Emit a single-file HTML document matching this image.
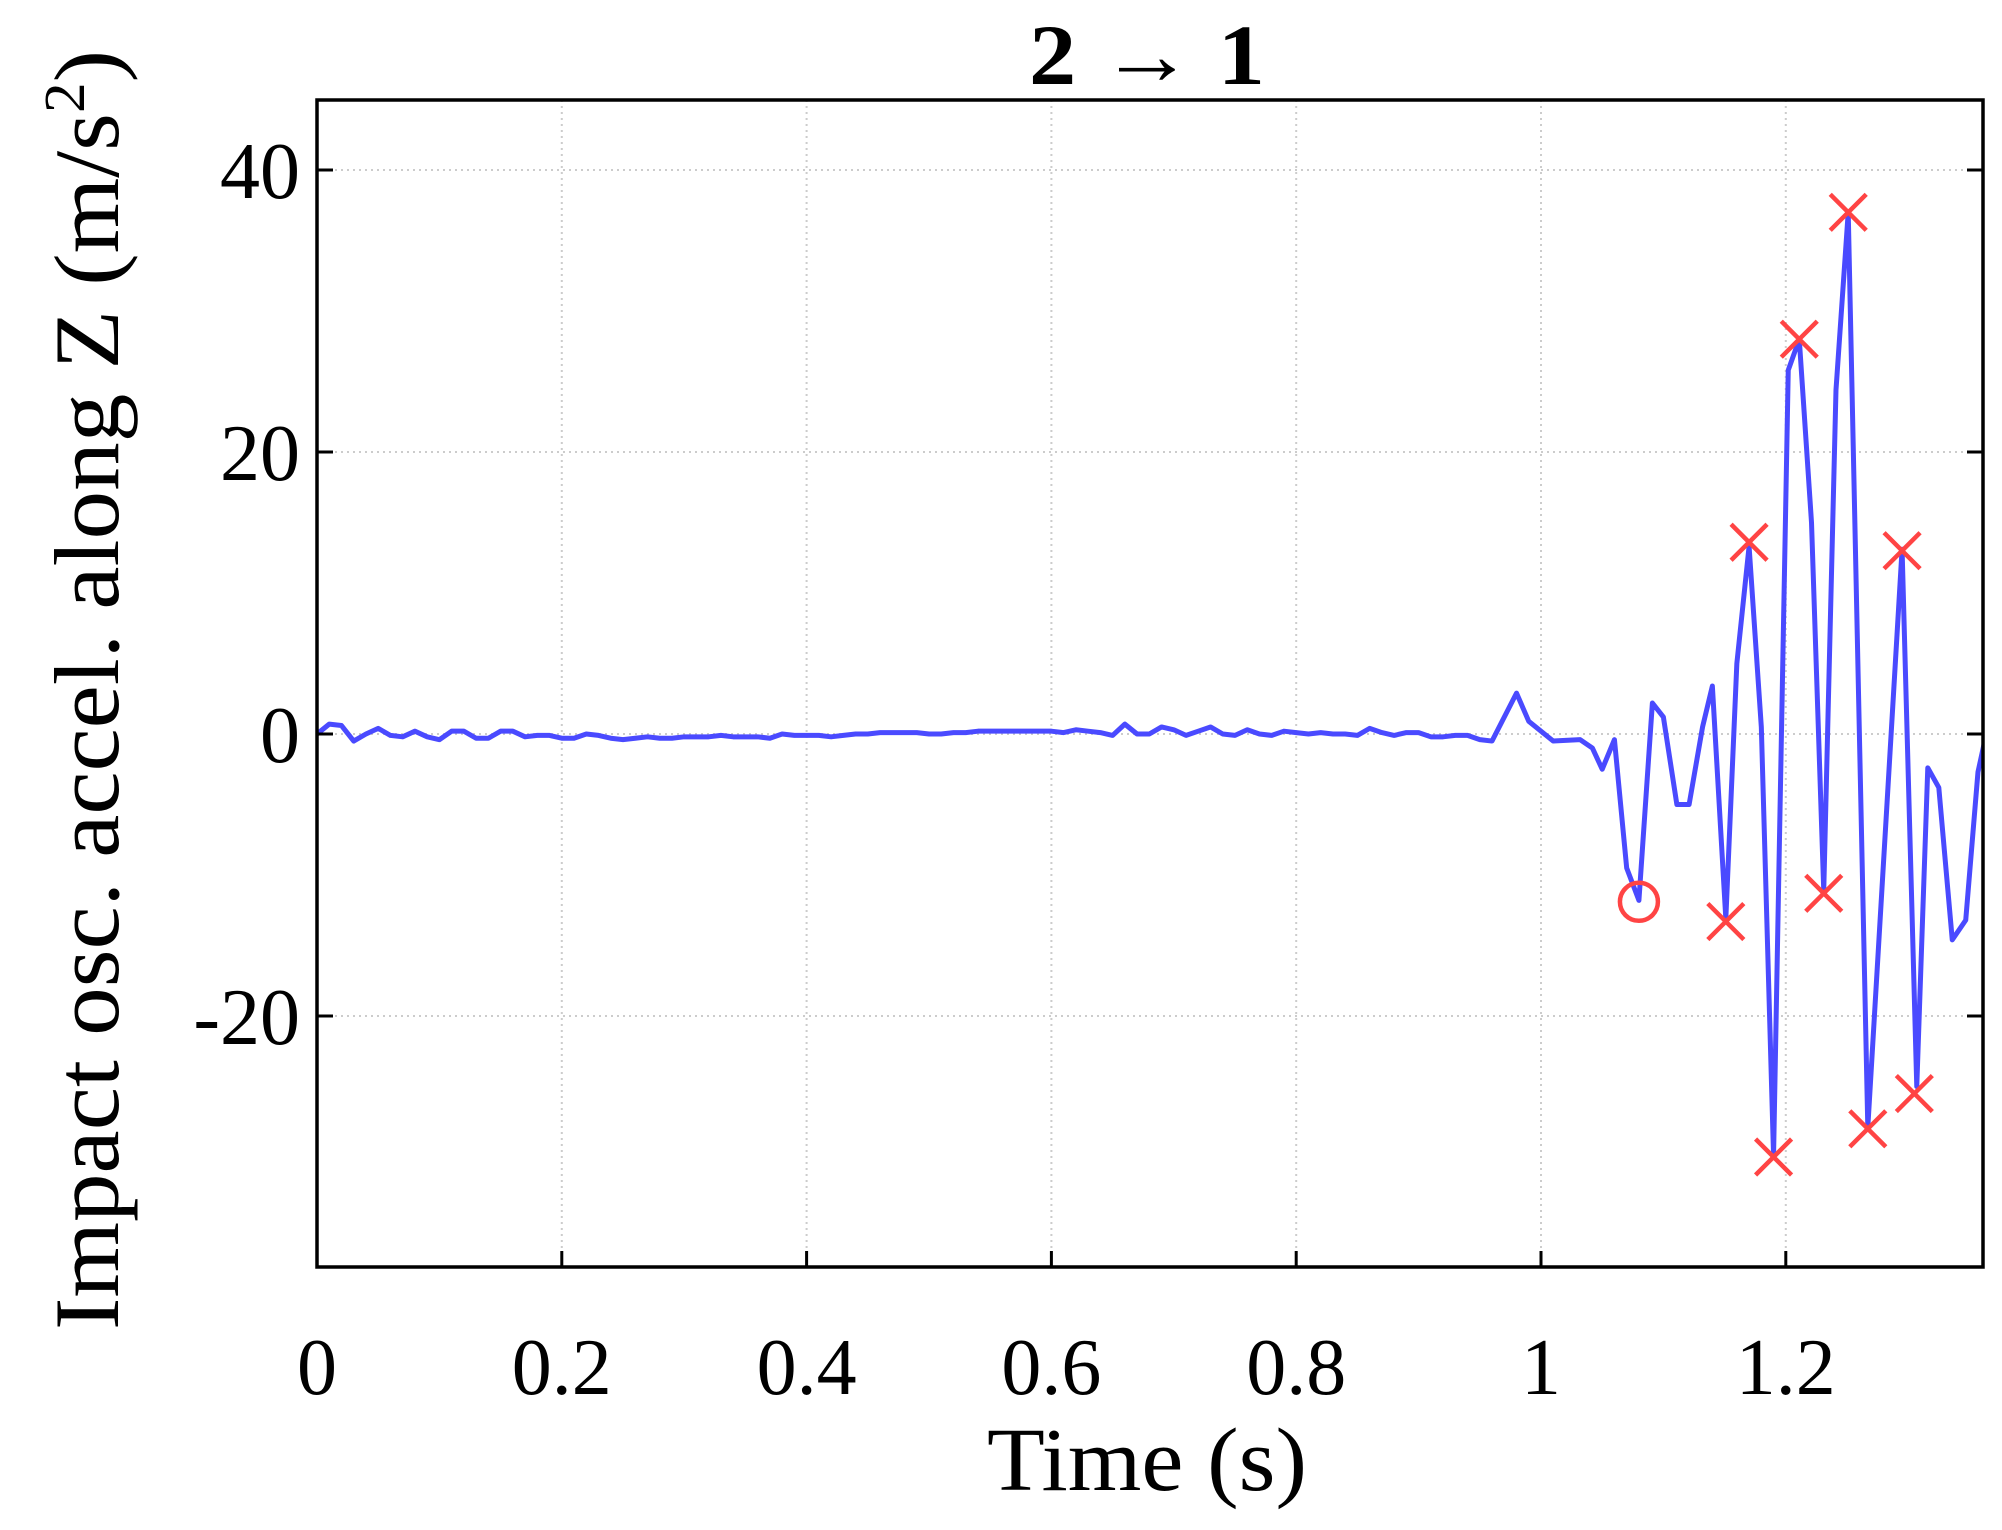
<!DOCTYPE html>
<html><head><meta charset="utf-8"><style>
html,body{margin:0;padding:0;background:#fff;}
svg text{font-family:"Liberation Serif",serif;fill:#000;}
</style></head><body>
<svg id="chart" width="2002" height="1525" viewBox="0 0 2002 1525" xmlns="http://www.w3.org/2000/svg">
<defs><clipPath id="clip"><rect x="317" y="100" width="1666" height="1167"/></clipPath></defs>
<rect x="0" y="0" width="2002" height="1525" fill="#fff"/>
<g id="grid"></g>
<g id="series" clip-path="url(#clip)"></g>
<g id="markers"></g>
<g id="axes"></g>
<text x="1147" y="84" font-size="86" font-weight="bold" text-anchor="middle" textLength="236" lengthAdjust="spacingAndGlyphs">2 → 1</text>
<text x="1147" y="1490" font-size="90" text-anchor="middle" textLength="320" lengthAdjust="spacingAndGlyphs">Time (s)</text>
<text transform="translate(118,690) rotate(-90)" font-size="92" text-anchor="middle" textLength="1280" lengthAdjust="spacingAndGlyphs">Impact osc. accel. along Z (m/s<tspan font-size="58" dy="-34">2</tspan><tspan dy="34">)</tspan></text>
</svg>
<script>
const xTicks=[0,0.2,0.4,0.6,0.8,1,1.2];
const xTickLabels=["0","0.2","0.4","0.6","0.8","1","1.2"];
const yTicks=[40,20,0,-20];
const yTickLabels=["40","20","0","-20"];
const flatVals=[0,0.7,0.6,-0.5,0,0.4,-0.1,-0.2,0.2,-0.2,-0.4,0.2,0.2,-0.3,-0.3,0.2,0.2,-0.2,-0.1,-0.1,-0.3,-0.3,0,-0.1,-0.3,-0.4,-0.3,-0.2,-0.3,-0.3,-0.2,-0.2,-0.2,-0.1,-0.2,-0.2,-0.2,-0.3,0,-0.1,-0.1,-0.1,-0.2,-0.1,0,0,0.1,0.1,0.1,0.1,0,0,0.1,0.1,0.2,0.2,0.2,0.2,0.2,0.2,0.2,0.1,0.3,0.2,0.1,-0.1,0.7,0,0,0.5,0.3,-0.1,0.2,0.5,0,-0.1,0.3,0,-0.1,0.2,0.1,0,0.1,0,0,-0.1,0.4,0.1,-0.1,0.1,0.1,-0.2,-0.2,-0.1,-0.1,-0.4,-0.5];
const lateTimes=[0.98,0.99,1.01,1.032,1.042,1.05,1.06,1.07,1.08,1.091,1.1,1.111,1.121,1.132,1.14,1.151,1.16,1.17,1.18,1.19,1.202,1.211,1.221,1.231,1.241,1.251,1.267,1.295,1.307,1.316,1.325,1.336,1.347,1.357,1.368];
const lateVals=[2.9,0.9,-0.5,-0.4,-1,-2.5,-0.4,-9.5,-11.8,2.2,1.2,-5,-5,0.5,3.4,-13.1,5,13.3,0.5,-29.9,25.8,28,15,-11.1,24.4,37,-27.9,13.1,-25,-2.4,-3.8,-14.6,-13.2,-2.7,1.7];
const circleT=[1.08], circleV=[-11.9];
const crossT=[1.151,1.17,1.19,1.211,1.231,1.251,1.267,1.295,1.305];
const crossV=[-13.3,13.6,-30,28,-11.3,37,-28,13,-25.5];

const X0=317,X1=1983,Y0=100,Y1=1267;
const sx=t=>X0+t*1224;
const sy=v=>734-v*14.1;
const NS="http://www.w3.org/2000/svg";
function mk(tag,attrs,parent){const e=document.createElementNS(NS,tag);for(const k in attrs)e.setAttribute(k,attrs[k]);parent.appendChild(e);return e;}
const grid=document.getElementById('grid'),axes=document.getElementById('axes'),series=document.getElementById('series'),markers=document.getElementById('markers');
xTicks.forEach((t,i)=>{
  if(t>0){const g=mk('line',{x1:sx(t),x2:sx(t),y1:Y0,y2:Y1,stroke:'#ccc','stroke-width':2,'stroke-dasharray':'2 4'},grid);
  
  }
  const tk=mk('line',{x1:sx(t),x2:sx(t),y1:Y1,y2:Y1-16,stroke:'#000','stroke-width':3},axes);
  
  
  const tx=mk('text',{x:sx(t),y:1394,'font-size':80,'text-anchor':'middle'},axes);
  tx.textContent=xTickLabels[i];
  
  
});
yTicks.forEach((v,i)=>{
  const g=mk('line',{x1:X0,x2:X1,y1:sy(v),y2:sy(v),stroke:'#ccc','stroke-width':2,'stroke-dasharray':'2 4'},grid);
  
  
  const tk=mk('line',{x1:X0,x2:X0+16,y1:sy(v),y2:sy(v),stroke:'#000','stroke-width':3},axes);
  
  
  const tk2=mk('line',{x1:X1,x2:X1-16,y1:sy(v),y2:sy(v),stroke:'#000','stroke-width':3},axes);
  
  
  const tx=mk('text',{x:300,y:sy(v)+28,'font-size':80,'text-anchor':'end'},axes);
  tx.textContent=yTickLabels[i];
  
  
});
const frame=mk('path',{d:`M${X0},${Y0} L${X1},${Y0} L${X1},${Y1} L${X0},${Y1} Z`,fill:'none',stroke:'#000','stroke-width':3.5},axes);


let pts=flatVals.map((v,i)=>[sx(i*0.01),sy(v)]);
lateTimes.forEach((t,i)=>pts.push([sx(t),sy(lateVals[i])]));
const line=mk('polyline',{points:pts.map(p=>p.join(',')).join(' '),fill:'none',stroke:'#4a4aff','stroke-width':5,'stroke-linejoin':'round'},series);


circleT.forEach((t,i)=>{
  const c=mk('circle',{cx:sx(t),cy:sy(circleV[i]),r:19,fill:'none',stroke:'#ff4444','stroke-width':4.5},markers);
  
  
});
crossT.forEach((t,i)=>{
  const x=sx(t),y=sy(crossV[i]),d=18;
  const p=mk('path',{d:`M${x-d},${y-d} L${x+d},${y+d} M${x-d},${y+d} L${x+d},${y-d}`,stroke:'#ff4444','stroke-width':4.5,fill:'none'},markers);
  
  
});
</script>
</body></html>
